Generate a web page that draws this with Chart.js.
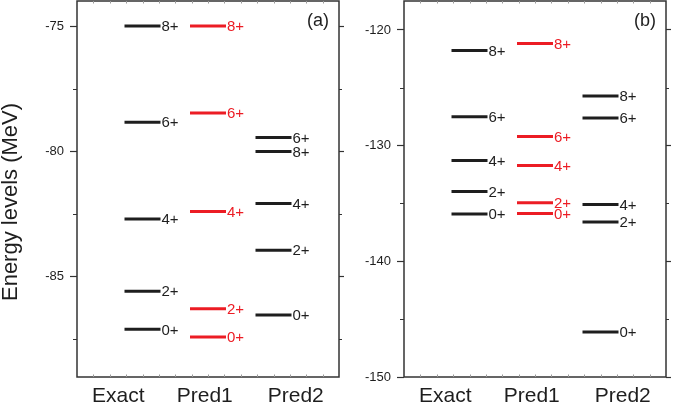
<!DOCTYPE html>
<html>
<head>
<meta charset="utf-8">
<script src="https://cdn.jsdelivr.net/npm/chart.js@4"></script>
<style>
  body { margin: 0; background: #fff; }
  #wrap { position: relative; width: 685px; height: 415px; }
  .panel { position: absolute; top: 0; }
</style>
</head>
<body>
<div id="wrap">
  <div class="panel" style="left:0"><canvas id="chartA" width="350" height="415"></canvas></div>
  <div class="panel" style="left:350px"><canvas id="chartB" width="335" height="415"></canvas></div>
</div>
<script>
'use strict';

// energy levels, ordered like levelLabels
const levelLabels = ['0+', '2+', '4+', '6+', '8+'];
const categories = ['Exact', 'Pred1', 'Pred2'];
const categoryX = [1, 2, 3];
const categoryLabelX = [0.63, 1.95, 3.34];

const exactA = [-87.10, -85.58, -82.70, -78.84, -75.00];
const pred1A = [-87.40, -86.28, -82.40, -78.47, -75.00];
const pred2A = [-86.53, -83.94, -82.08, -79.45, -80.00];

const exactB = [-135.91, -133.97, -131.29, -127.50, -121.78];
const pred1B = [-135.86, -134.94, -131.72, -129.22, -121.17];
const pred2B = [-146.12, -136.60, -135.09, -127.61, -125.72];

const yTicksA = [-85, -80, -75];
const yMinorA = [-87.5, -82.5, -77.5];
const yTicksB = [-150, -140, -130, -120];
const yMinorB = [-145, -135, -125];

const BLACK = '#1e1e1e';
const RED = '#ec1c24';
const FONT = "'Liberation Sans', Arial, sans-serif";

const frameAndLabels = {
  id: 'frameAndLabels',
  afterDatasetsDraw(chart, args, opts) {
    const { ctx, chartArea: a } = chart;
    ctx.save();
    // level labels
    ctx.font = '15px ' + FONT;
    ctx.textBaseline = 'middle';
    ctx.textAlign = 'left';
    chart.data.datasets.forEach((ds, i) => {
      const meta = chart.getDatasetMeta(i);
      ctx.fillStyle = ds.borderColor;
      meta.data.forEach((pt, j) => {
        ctx.fillText(levelLabels[j], pt.x + ds.pointRadius + 1, pt.y + 1);
      });
    });
    // frame
    ctx.strokeStyle = '#333';
    ctx.lineWidth = 1.5;
    ctx.strokeRect(a.left, a.top, a.right - a.left, a.bottom - a.top);
    // minor ticks
    const y = chart.scales.y;
    ctx.lineWidth = 1;
    opts.minor.forEach(v => {
      const py = Math.round(y.getPixelForValue(v)) + 0.5;
      ctx.beginPath();
      ctx.moveTo(a.left - 4, py); ctx.lineTo(a.left, py);
      ctx.moveTo(a.right, py); ctx.lineTo(a.right + 3, py);
      ctx.stroke();
    });
    const x = chart.scales.x;
    ctx.strokeStyle = '#999';
    for (let v = 0.25; v < 4; v += 0.25) {
      const px = Math.round(x.getPixelForValue(v)) + 0.5;
      ctx.beginPath();
      ctx.moveTo(px, a.bottom); ctx.lineTo(px, a.bottom - 2.5);
      ctx.moveTo(px, a.top); ctx.lineTo(px, a.top + 2.5);
      ctx.stroke();
    }
    // panel tag
    ctx.fillStyle = BLACK;
    ctx.font = '18px ' + FONT;
    ctx.textAlign = 'right';
    ctx.fillText(opts.tag, a.right - 10, a.top + 20);
    // y title, sits a little below the axis middle
    if (opts.yTitle) {
      ctx.font = '22px ' + FONT;
      ctx.textAlign = 'center';
      ctx.textBaseline = 'middle';
      ctx.translate(11, (a.top + a.bottom) / 2 + 13);
      ctx.rotate(-Math.PI / 2);
      ctx.fillText(opts.yTitle, 0, 0);
    }
    ctx.restore();
  }
};

function noPad(s) {
  s.paddingTop = 0; s.paddingBottom = 0; s.paddingLeft = 0; s.paddingRight = 0;
}

function makePanel(id, series, yMin, yMax, yTicks, yMinor, tag, leftW, rightW, yTitle) {
  const colors = [BLACK, RED, BLACK];
  const datasets = series.map((vals, i) => ({
    label: categories[i],
    data: vals.map(v => ({ x: categoryX[i], y: v })),
    showLine: false,
    pointStyle: 'line',
    pointRadius: 18,
    pointHoverRadius: 18,
    borderWidth: 3,
    borderColor: colors[i],
    backgroundColor: colors[i],
  }));
  return new Chart(document.getElementById(id), {
    type: 'scatter',
    data: { datasets },
    plugins: [frameAndLabels],
    options: {
      responsive: false,
      animation: false,
      layout: { autoPadding: false, padding: { top: 1, bottom: 0, left: 0, right: 0 } },
      plugins: {
        legend: { display: false },
        tooltip: { enabled: false },
        frameAndLabels: { minor: yMinor, tag, yTitle },
      },
      scales: {
        x: {
          type: 'linear',
          min: 0,
          max: 4,
          afterBuildTicks: (s) => { s.ticks = categoryLabelX.map(v => ({ value: v })); },
          afterFit: (s) => { s.height = 38; noPad(s); },
          grid: { display: false, drawTicks: false },
          border: { display: false },
          ticks: {
            autoSkip: false,
            maxRotation: 0,
            padding: 7,
            color: BLACK,
            font: { family: FONT, size: 21 },
            callback: (v, i) => categories[i],
          },
        },
        y: {
          min: yMin,
          max: yMax,
          afterBuildTicks: (s) => { s.ticks = yTicks.map(v => ({ value: v })); },
          afterFit: (s) => { s.width = leftW; noPad(s); },
          grid: { drawOnChartArea: false, tickLength: 7, color: '#333', tickWidth: 1.2 },
          border: { display: false },
          ticks: {
            padding: 6,
            color: BLACK,
            font: { family: FONT, size: 13 },
          },
        },
        y2: {
          position: 'right',
          min: yMin,
          max: yMax,
          afterBuildTicks: (s) => { s.ticks = yTicks.map(v => ({ value: v })); },
          afterFit: (s) => { s.width = rightW; noPad(s); },
          grid: { drawOnChartArea: false, tickLength: 5, color: '#333', tickWidth: 1.2 },
          border: { display: false },
          ticks: { display: false },
        },
      },
    },
  });
}

makePanel('chartA', [exactA, pred1A, pred2A], -89, -74, yTicksA, yMinorA, '(a)', 77, 11, 'Energy levels (MeV)');
makePanel('chartB', [exactB, pred1B, pred2B], -150, -117.5, yTicksB, yMinorB, '(b)', 54, 19, '');
</script>
</body>
</html>
